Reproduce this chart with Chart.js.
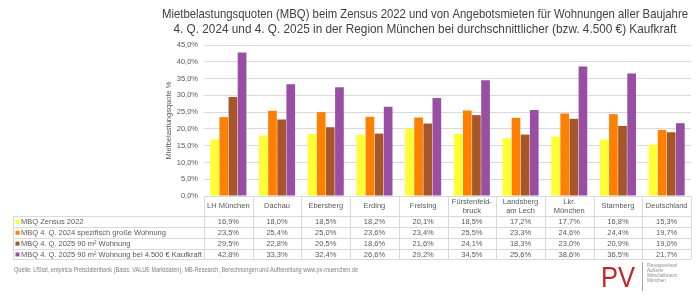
<!DOCTYPE html>
<html>
<head>
<meta charset="utf-8">
<script src="https://cdn.jsdelivr.net/npm/chart.js@4"></script>
<style>
  html, body { margin: 0; padding: 0; background: #fff; }
</style>
</head>
<body>
<canvas id="chart" width="700" height="301"></canvas>
<script>
// categories (regions), multi-line labels for the table
const regions = [
    ['LH München'], ['Dachau'], ['Ebersberg'], ['Erding'], ['Freising'],
    ['Fürstenfeld-', 'bruck'], ['Landsberg', 'am Lech'], ['Lkr.', 'München'],
    ['Starnberg'], ['Deutschland']
];

const seriesNames = [
    'MBQ Zensus 2022',
    'MBQ 4. Q. 2024 spezifisch große Wohnung',
    'MBQ 4. Q. 2025 90 m² Wohnung',
    'MBQ 4. Q. 2025 90 m² Wohnung bei 4.500 € Kaufkraft'
];

const zensus2022 = [16.9, 18.0, 18.5, 18.2, 20.1, 18.5, 17.2, 17.7, 16.8, 15.3];
const q4_2024 = [23.5, 25.4, 25.0, 23.6, 23.4, 25.5, 23.3, 24.6, 24.4, 19.7];
const q4_2025 = [29.5, 22.8, 20.5, 18.6, 21.6, 24.1, 18.3, 23.0, 20.9, 19.0];
const q4_2025_kk = [42.8, 33.3, 32.4, 26.6, 29.2, 34.5, 25.6, 38.6, 36.5, 21.7];

const colors = ['#FFFF33', '#FF7F00', '#A65628', '#984EA3'];

const titleLines = [
    'Mietbelastungsquoten (MBQ) beim Zensus 2022 und von Angebotsmieten für Wohnungen aller Baujahre',
    '4. Q. 2024 und 4. Q. 2025 in der Region München bei durchschnittlicher (bzw. 4.500 €) Kaufkraft'
];
const sourceText = 'Quelle: LfStat, empirica Preisdatenbank (Basis: VALUE Marktdaten), MB-Research, Berechnungen und Aufbereitung www.pv-muenchen.de';
const logoLines = ['Planungsverband', 'Äußerer', 'Wirtschaftsraum', 'München'];

const allSeries = [zensus2022, q4_2024, q4_2025, q4_2025_kk];
const fmt = v => v.toFixed(1).replace('.', ',') + '%';
const FONT = '"Liberation Sans", Arial, sans-serif';
const GRID = '#d9d9d9';
const TEXT = '#595959';

// title, data table, source line and logo
const extras = {
    id: 'extras',
    afterDraw(chart) {
        const ctx = chart.ctx;
        const area = chart.chartArea;
        const xs = chart.scales.x;
        const n = regions.length;
        const colW = (area.right - area.left) / n;
        const tableLeft = 13;
        const top = area.bottom;
        const headBottom = 216;
        const rowH = 10.85;
        const tableBottom = headBottom + rowH * 4;

        ctx.save();

        // title
        ctx.fillStyle = '#404040';
        ctx.font = '13px ' + FONT;
        ctx.textAlign = 'center';
        ctx.textBaseline = 'middle';
        ctx.fillText(titleLines[0], 425, 14, 526);
        ctx.fillText(titleLines[1], 425, 29, 503);

        // table grid
        ctx.strokeStyle = GRID;
        ctx.lineWidth = 1;
        ctx.beginPath();
        ctx.moveTo(area.left, top + 0.5);
        ctx.lineTo(area.right, top + 0.5);
        for (let r = 0; r <= 4; r++) {
            const y = Math.round(headBottom + r * rowH) + 0.5;
            ctx.moveTo(tableLeft, y);
            ctx.lineTo(area.right, y);
        }
        ctx.moveTo(tableLeft + 0.5, headBottom);
        ctx.lineTo(tableLeft + 0.5, tableBottom);
        for (let i = 0; i <= n; i++) {
            const x = Math.round(area.left + i * colW) + 0.5;
            ctx.moveTo(x, top);
            ctx.lineTo(x, tableBottom);
        }
        ctx.stroke();

        // category labels
        ctx.fillStyle = TEXT;
        ctx.font = '7.5px ' + FONT;
        ctx.textAlign = 'center';
        regions.forEach((lines, i) => {
            const cx = xs.getPixelForValue(i);
            if (lines.length === 1) {
                ctx.fillText(lines[0], cx, 206);
            } else {
                ctx.fillText(lines[0], cx, 202);
                ctx.fillText(lines[1], cx, 210.5);
            }
        });

        // legend + values
        allSeries.forEach((data, r) => {
            const cy = headBottom + r * rowH + rowH / 2 + 0.5;
            ctx.fillStyle = colors[r];
            ctx.fillRect(15.5, cy - 2, 4, 4);
            ctx.fillStyle = TEXT;
            ctx.textAlign = 'left';
            ctx.fillText(seriesNames[r], 21, cy, 182);
            ctx.textAlign = 'center';
            data.forEach((v, i) => {
                ctx.fillText(fmt(v), xs.getPixelForValue(i), cy);
            });
        });

        // source
        ctx.textAlign = 'left';
        ctx.font = '6.5px ' + FONT;
        ctx.fillStyle = '#7f7f7f';
        ctx.fillText(sourceText, 14, 270, 344);

        // logo
        ctx.fillStyle = '#C1272D';
        ctx.font = '30px ' + FONT;
        ctx.textBaseline = 'alphabetic';
        ctx.fillText('PV', 601, 287, 34);
        ctx.strokeStyle = '#a6a6a6';
        ctx.beginPath();
        ctx.moveTo(642.5, 262);
        ctx.lineTo(642.5, 291);
        ctx.stroke();
        ctx.fillStyle = '#8c8c8c';
        ctx.font = '4.6px ' + FONT;
        ctx.textBaseline = 'middle';
        logoLines.forEach((t, i) => ctx.fillText(t, 647, 266 + i * 4.8, 30));

        ctx.restore();
    }
};

new Chart(document.getElementById('chart').getContext('2d'), {
    type: 'bar',
    data: {
        labels: regions.map(l => l.join(' ')),
        datasets: allSeries.map((data, i) => ({
            label: seriesNames[i],
            data: data,
            backgroundColor: colors[i],
            borderWidth: 0,
            categoryPercentage: 0.75,
            barPercentage: 0.95
        }))
    },
    options: {
        responsive: false,
        animation: false,
        layout: { padding: { left: 160, top: 45, right: 9, bottom: 105 } },
        plugins: {
            legend: { display: false },
            tooltip: { enabled: false }
        },
        scales: {
            x: { display: false },
            y: {
                min: 0,
                max: 45,
                afterFit(scale) { scale.width = 44; },
                border: { display: false },
                grid: { color: GRID, drawTicks: false },
                ticks: {
                    stepSize: 5,
                    padding: 6,
                    color: TEXT,
                    font: { family: FONT, size: 7.5 },
                    callback: v => fmt(v)
                },
                title: {
                    display: true,
                    text: 'Mietbelastungsquote %',
                    color: TEXT,
                    font: { family: FONT, size: 7.5 }
                }
            }
        }
    },
    plugins: [extras]
});
</script>
</body>
</html>
